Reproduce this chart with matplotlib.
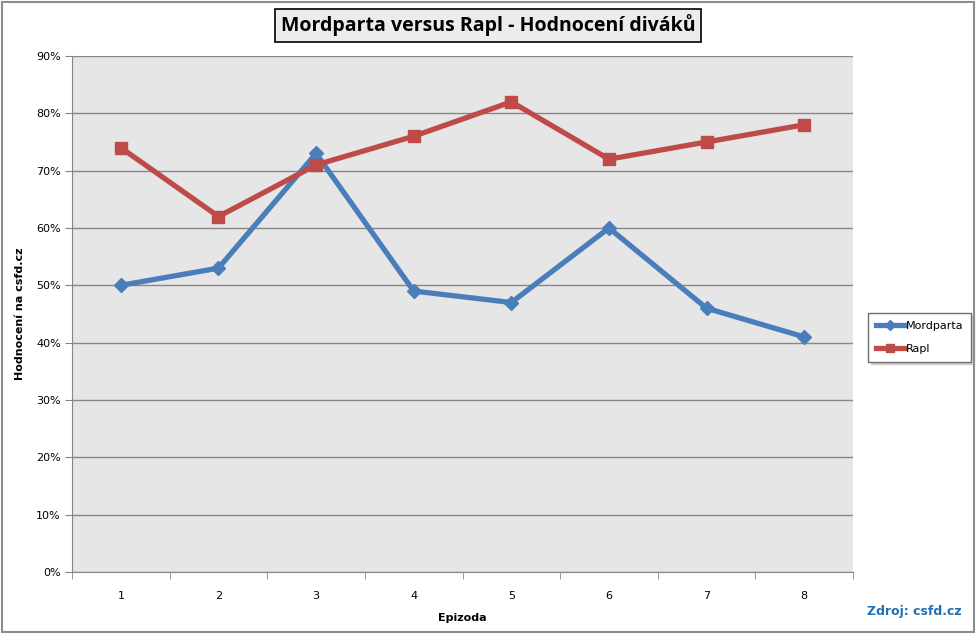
import matplotlib.pyplot as plt
from matplotlib.patches import Rectangle
from matplotlib.ticker import FixedLocator, FuncFormatter

episodes = [1, 2, 3, 4, 5, 6, 7, 8]
mordparta = [50, 53, 73, 49, 47, 60, 46, 41]
rapl = [74, 62, 71, 76, 82, 72, 75, 78]
y_ticks = [0, 10, 20, 30, 40, 50, 60, 70, 80, 90]

plt.rcParams["font.family"] = ["DejaVu Sans"]

fig = plt.figure(figsize=(9.76, 6.34), dpi=100)
fig.patch.set_facecolor("white")
# grey frame around the whole chart
fig.patches.append(Rectangle((0.002, 0.003), 0.996, 0.994, transform=fig.transFigure,
                             fill=False, edgecolor="#8c8c8c", linewidth=1.5))

ax = fig.add_axes([0.0738, 0.0978, 0.8002, 0.8139])
ax.set_facecolor("#e6e6e6")

ax.plot(episodes, mordparta, color="#4a7ebb", linewidth=3.8, marker="D",
        markersize=7, label="Mordparta", zorder=3)
ax.plot(episodes, rapl, color="#be4b48", linewidth=3.8, marker="s",
        markersize=9, label="Rapl", zorder=3)

ax.set_xlim(0.5, 8.5)
ax.set_ylim(0, 90)
ax.yaxis.set_major_locator(FixedLocator(y_ticks))
ax.yaxis.set_major_formatter(FuncFormatter(lambda v, p: "{:d}%".format(int(v))))
ax.grid(axis="y", color="#868686", linewidth=1)
ax.set_axisbelow(True)

ax.set_xticks(episodes)
ax.set_xticklabels([str(e) for e in episodes])
ax.set_xticks([e + 0.5 for e in [0] + episodes], minor=True)
ax.tick_params(axis="x", which="major", length=0, pad=14, labelsize=8)
ax.tick_params(axis="x", which="minor", length=5, direction="out", color="#868686")
ax.tick_params(axis="y", length=5, direction="out", color="#868686", labelsize=8, pad=3)

for side in ["top", "right"]:
    ax.spines[side].set_visible(False)
for side in ["left", "bottom"]:
    ax.spines[side].set_color("#868686")

ax.set_xlabel("Epizoda", fontsize=8, fontweight="bold", labelpad=8)
ax.set_ylabel("Hodnocení na csfd.cz", fontsize=8, fontweight="bold", labelpad=8)

fig.text(0.5, 0.96, "Mordparta versus Rapl - Hodnocení diváků", ha="center", va="center",
         fontsize=14, fontweight="bold", family=["Open Sans", "DejaVu Sans"],
         bbox=dict(boxstyle="square,pad=0.3", facecolor="#ececec", edgecolor="black",
                   linewidth=1.2))

leg = ax.legend(loc="center left", bbox_to_anchor=(1.019, 0.455), fontsize=8,
                frameon=True, fancybox=False, shadow={"color": "#b0b0b0"},
                handlelength=2.6, handletextpad=0.1, borderpad=0.7, borderaxespad=0,
                labelspacing=1.2, markerscale=0.7)
leg.get_frame().set_edgecolor("#6e6e6e")
leg.get_frame().set_linewidth(1)

fig.text(0.985, 0.035, "Zdroj: csfd.cz", ha="right", va="center", fontsize=9,
         fontweight="bold", color="#1f6fb5")

fig.savefig("out.png", dpi=100)
